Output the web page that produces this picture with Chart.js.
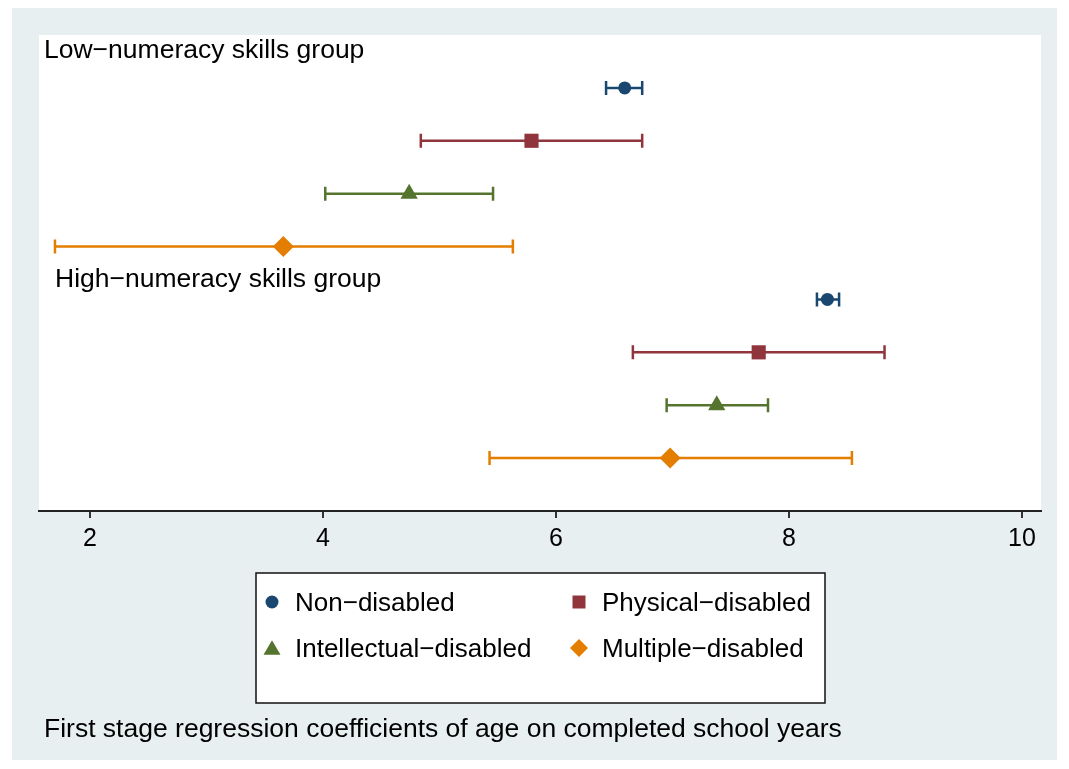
<!DOCTYPE html>
<html>
<head>
<meta charset="utf-8">
<script src="https://cdn.jsdelivr.net/npm/chart.js@4.4.1/dist/chart.umd.min.js"></script>
<style>
  html, body { margin: 0; padding: 0; background: #ffffff; }
  #wrap { width: 1069px; height: 769px; position: relative; }
</style>
</head>
<body>
<div id="wrap"><canvas id="c" width="1069" height="769"></canvas></div>
<script>
// Groups and panels
const groups = ['Non\u2212disabled', 'Physical\u2212disabled', 'Intellectual\u2212disabled', 'Multiple\u2212disabled'];
const panels = ['Low\u2212numeracy skills group', 'High\u2212numeracy skills group'];
const xTicks = [2, 4, 6, 8, 10];
const note = 'First stage regression coefficients of age on completed school years';

// Coefficients and confidence limits, [low-numeracy, high-numeracy]
const estNon   = [6.59, 8.33];
const loNon    = [6.43, 8.24];
const hiNon    = [6.74, 8.43];

const estPhys  = [5.79, 7.74];
const loPhys   = [4.84, 6.66];
const hiPhys   = [6.74, 8.82];

const estIntel = [4.74, 7.38];
const loIntel  = [4.02, 6.95];
const hiIntel  = [5.46, 7.82];

const estMult  = [3.66, 6.98];
const loMult   = [1.70, 5.43];
const hiMult   = [5.63, 8.54];

const estimates = [estNon, estPhys, estIntel, estMult];
const lowers    = [loNon, loPhys, loIntel, loMult];
const uppers    = [hiNon, hiPhys, hiIntel, hiMult];

const colors  = ['#1a476f', '#90353b', '#55752f', '#e37e00'];
const styles  = ['circle', 'rect', 'triangle', 'rectRot'];
const radii   = [6.5, 10, 10, 10.5];
const FONT = '"Liberation Sans", Arial, Helvetica, sans-serif';

// one row per group inside each panel
const rowOf = (panel, g) => panel * groups.length + g + 1;

const datasets = groups.map((name, g) => ({
  label: name,
  data: panels.map((p, i) => ({ x: estimates[g][i], y: rowOf(i, g), lo: lowers[g][i], hi: uppers[g][i] })),
  pointStyle: styles[g],
  pointRadius: radii[g],
  pointBackgroundColor: colors[g],
  pointBorderColor: colors[g],
  pointBorderWidth: 0,
  showLine: false
}));

const backdrop = {
  id: 'backdrop',
  beforeDraw(chart) {
    const { ctx, chartArea: a } = chart;
    ctx.save();
    ctx.fillStyle = '#ffffff';
    ctx.fillRect(0, 0, chart.width, chart.height);
    ctx.fillStyle = '#e8eff1';
    ctx.fillRect(12, 8, 1045, 752);
    ctx.fillStyle = '#ffffff';
    ctx.fillRect(a.left, a.top, a.right - a.left, a.bottom - a.top);
    ctx.restore();
  }
};

const errorBars = {
  id: 'errorBars',
  beforeDatasetsDraw(chart) {
    const { ctx, scales: { x, y } } = chart;
    ctx.save();
    ctx.lineWidth = 2.5;
    chart.data.datasets.forEach((ds, g) => {
      ctx.strokeStyle = colors[g];
      ds.data.forEach(p => {
        const py = y.getPixelForValue(p.y);
        const x0 = x.getPixelForValue(p.lo);
        const x1 = x.getPixelForValue(p.hi);
        ctx.beginPath();
        ctx.moveTo(x0, py); ctx.lineTo(x1, py);
        ctx.moveTo(x0, py - 7); ctx.lineTo(x0, py + 7);
        ctx.moveTo(x1, py - 7); ctx.lineTo(x1, py + 7);
        ctx.stroke();
      });
    });
    ctx.restore();
  }
};

function marker(ctx, style, cx, cy, r, color) {
  ctx.fillStyle = color;
  ctx.beginPath();
  if (style === 'circle') {
    ctx.arc(cx, cy, r, 0, Math.PI * 2);
  } else if (style === 'rect') {
    ctx.rect(cx - r, cy - r, 2 * r, 2 * r);
  } else if (style === 'triangle') {
    ctx.moveTo(cx - r, cy + r * 0.8);
    ctx.lineTo(cx + r, cy + r * 0.8);
    ctx.lineTo(cx, cy - r * 0.9);
    ctx.closePath();
  } else {
    ctx.moveTo(cx, cy - r); ctx.lineTo(cx + r, cy);
    ctx.lineTo(cx, cy + r); ctx.lineTo(cx - r, cy);
    ctx.closePath();
  }
  ctx.fill();
}

const annotations = {
  id: 'annotations',
  afterDraw(chart) {
    const { ctx } = chart;
    ctx.save();
    ctx.fillStyle = '#000000';
    ctx.textBaseline = 'alphabetic';
    ctx.textAlign = 'left';
    ctx.font = '26.5px ' + FONT;
    // panel headings
    ctx.fillText(panels[0], 44, 58);
    ctx.fillText(panels[1], 55, 287);

    // legend box
    ctx.fillStyle = '#ffffff';
    ctx.fillRect(256, 573, 569, 130);
    ctx.strokeStyle = '#111111';
    ctx.lineWidth = 1.5;
    ctx.strokeRect(256, 573, 569, 130);
    const legendSizes = [6.5, 6.5, 8.5, 9];
    const cols = [272, 579];
    const rows = [602, 648];
    const baselines = [611, 657];
    ctx.font = '26px ' + FONT;
    groups.forEach((name, g) => {
      const r = Math.floor(g / 2);
      const cx = cols[g % 2], cy = rows[r];
      marker(ctx, styles[g], cx, cy, legendSizes[g], colors[g]);
      ctx.fillStyle = '#000000';
      ctx.fillText(name, cx + 23, baselines[r]);
    });

    // note
    ctx.font = '26.5px ' + FONT;
    ctx.fillStyle = '#000000';
    ctx.fillText(note, 44, 737);
    ctx.restore();
  }
};

new Chart(document.getElementById('c'), {
  type: 'scatter',
  data: { datasets },
  options: {
    responsive: false,
    animation: false,
    events: [],
    layout: { padding: { left: 39, top: 35, right: 28, bottom: 218 } },
    plugins: { legend: { display: false }, tooltip: { enabled: false } },
    scales: {
      x: {
        type: 'linear',
        min: 1.563,
        max: 10.163,
        afterBuildTicks: s => { s.ticks = xTicks.map(v => ({ value: v })); },
        afterFit: s => { s.height = 40; },
        grid: { drawOnChartArea: false, drawTicks: true, tickLength: 7, color: '#333333', lineWidth: 2 },
        border: { display: true, color: '#222222', width: 2 },
        ticks: { color: '#000000', font: { family: FONT, size: 25 }, padding: 6, maxRotation: 0, autoSkip: false }
      },
      y: { type: 'linear', min: 0, max: 9, reverse: true, display: false }
    }
  },
  plugins: [backdrop, errorBars, annotations]
});
</script>
</body>
</html>
